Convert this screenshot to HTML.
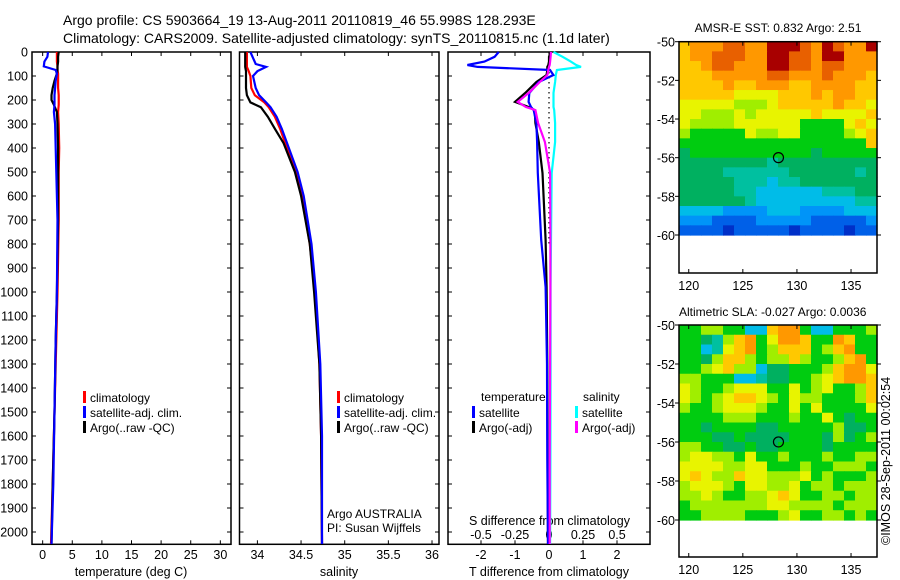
<!DOCTYPE html>
<html><head><meta charset="utf-8">
<style>
html,body{margin:0;padding:0;background:#fff;}
svg{display:block;font-family:"Liberation Sans",sans-serif;}
text{fill:#000;}
</style></head>
<body>
<svg id="chart" width="900" height="580" viewBox="0 0 900 580">
<g id="titles" font-size="14">
<text x="63" y="25">Argo profile: CS 5903664_19 13-Aug-2011 20110819_46 55.998S 128.293E</text>
<text x="63" y="43">Climatology: CARS2009. Satellite-adjusted climatology: synTS_20110815.nc (1.1d later)</text>
</g>
<g id="p1"></g>
<g id="p2"></g>
<g id="p3"></g>
<g id="m1"></g>
<g id="m2"></g>
<text transform="translate(890,545) rotate(-90)" font-size="12.5">©IMOS 28-Sep-2011 00:02:54</text>
</svg>
<script>
// ---- data ----
const tDepth = [0,20,40,60,75,90,120,150,180,200,220,250,300,400,500,700,1000,1200,1500,1800,2050];
const tArgo  = [2.7,2.6,2.6,2.5,2.5,2.4,2.0,1.7,1.5,1.5,1.9,2.4,2.5,2.6,2.6,2.6,2.4,2.2,2.0,1.7,1.5];
const tClim  = [2.4,2.4,2.4,2.5,2.5,2.6,2.6,2.6,2.7,2.7,2.7,2.6,2.7,2.8,2.7,2.7,2.5,2.3,2.0,1.7,1.4];
const tSat   = [0.9,0.8,0.3,0.2,2.2,2.4,2.2,2.1,2.0,2.0,2.0,1.9,2.1,2.2,2.3,2.5,2.4,2.2,2.0,1.8,1.5];
const sDepth = [0,50,62,80,100,150,180,210,230,270,320,380,500,600,800,1000,1300,1600,2050];
const sArgo  = [33.86,33.86,33.86,33.87,33.87,33.87,33.88,33.92,34.04,34.12,34.2,34.3,34.43,34.5,34.6,34.65,34.71,34.73,34.74];
const sClim  = [33.88,33.88,33.88,33.9,33.92,33.93,33.97,34.08,34.13,34.2,34.26,34.32,34.44,34.51,34.6,34.66,34.71,34.73,34.74];
const sSat   = [33.92,33.98,34.1,34.0,33.95,33.98,34.02,34.1,34.15,34.22,34.28,34.34,34.46,34.53,34.62,34.67,34.72,34.74,34.74];
const dDepth = [0,20,40,54,62,75,96,125,171,208,229,242,296,375,504,783,979,1300,1700,2050];
const dTSat  = [-1.48,-1.6,-1.9,-2.4,-2.1,0.03,0.13,-0.3,-0.58,-0.6,-0.53,-0.45,-0.37,-0.35,-0.33,-0.23,-0.1,-0.06,-0.05,-0.03];
const dTArgo = [0.05,0.0,0.0,-0.02,-0.05,-0.05,-0.07,-0.37,-0.7,-1.0,-0.6,-0.42,-0.4,-0.3,-0.19,-0.1,-0.07,-0.05,-0.04,-0.03];
const dSArgo = [0.015,0.012,0.008,0.005,0,-0.005,-0.012,-0.068,-0.15,-0.23,-0.17,-0.1,-0.08,-0.03,0.008,0.01,0.01,0.008,0.005,0.005];
const dSSat  = [0.033,0.1,0.16,0.2,0.235,0.058,0.05,0.045,0.033,0.033,0.033,0.038,0.045,0.045,0.02,0.015,0.012,0.012,0.01,0.008];
const depthTicks = [0,100,200,300,400,500,600,700,800,900,1000,1100,1200,1300,1400,1500,1600,1700,1800,1900,2000];
const tempTicks = [0,5,10,15,20,25,30];
const salTicks = [34,34.5,35,35.5,36];
const salTickLabels = ["34","34.5","35","35.5","36"];
const dTTicks = [-2,-1,0,1,2];
const dSTicks = [-0.5,-0.25,0,0.25,0.5];
const dSTickLabels = ["-0.5","-0.25","0","0.25","0.5"];
const latTicks = [-50,-52,-54,-56,-58,-60];
const lonTicks = [120,125,130,135];
const sstGrid = [
"9aaabbaacccbacbaac","9aabbbaaccbbaccaaa","99abbaaaccbbabbaaa","999aaaaabbaaabaaa9",
"9999a99aaa99aaaa99","999998888999a9aa99","88888777899999a998","887778788888988889",
"877778888886666898","766666877886666789","666666666666666669","566666666666566666",
"555555554555555555","555544444455555545","555554443445555555","555554433333344455",
"555555433333333344","333322223332222333","222111122222111112","111101111101111011"];
const slaGrid = [
"667766339aa6336667","665479a68aa966a966","663489a67999679a66","6657997677976679a6",
"667897735566679aa8","776663345566789aa9","876678886686786679","876789987687766679",
"766788876686866668","666677766676686566","665666655666667556","666556555566657567",
"776655655666656666","788776866766676677","888877886667667776","898779887778676667",
"788876887786776777","778766778986677677","677777778877776777","667777666786677676"];
const palette = {"0":"#0030c8","1":"#0060e8","2":"#0094f8","3":"#00bce8","4":"#00c0a0","5":"#00b060","6":"#00cc10","7":"#a0ee00","8":"#e8f400","9":"#ffc800","a":"#ff9800","b":"#e86000","c":"#a80000"};

const NS="http://www.w3.org/2000/svg";
function mk(parent,tag,attrs){const e=document.createElementNS(NS,tag);for(const k in attrs)e.setAttribute(k,attrs[k]);parent.appendChild(e);return e;}
const Y0=52, Y1=544.3;
function yD(d){return Y0+d*0.24;}

function panel(g,x0,x1,xmin,xmax){
  const sx=v=>x0+(v-xmin)/(xmax-xmin)*(x1-x0);
  const fr=mk(g,'rect',{x:x0,y:Y0,width:x1-x0,height:Y1-Y0,fill:'none',stroke:'#000','stroke-width':1.5});
  
  
  depthTicks.forEach(d=>{
    mk(g,'line',{x1:x0,x2:x0+4,y1:yD(d),y2:yD(d),stroke:'#000'});
    mk(g,'line',{x1:x1-4,x2:x1,y1:yD(d),y2:yD(d),stroke:'#000'});
  });
  return sx;
}
function profile(g,sx,depths,vals,color,name,w){
  const pts=depths.map((d,i)=>sx(vals[i]).toFixed(1)+','+yD(d).toFixed(1)).join(' ');
  const p=mk(g,'polyline',{points:pts,fill:'none',stroke:color,'stroke-width':w||2.2});
  
  
}
function txt(g,x,y,s,size,anchor,name){
  const t=mk(g,'text',{x:x,y:y,'font-size':size||13,'text-anchor':anchor||'start'});
  t.textContent=s;
  
  
  return t;
}
function legend(g,x,y,color,label){
  const r=mk(g,'rect',{x:x,y:y-11,width:3,height:12,fill:color});
  
  
  txt(g,x+7,y,label,12,'start','legend-entry');
}

// Panel 1 temperature
const g1=document.getElementById('p1');
const sT=panel(g1,32,231,-1.8,31.8);
depthTicks.forEach(d=>txt(g1,28,yD(d)+4.5,String(d),12.5,'end','depth-tick-label'));
tempTicks.forEach(v=>{mk(g1,'line',{x1:sT(v),x2:sT(v),y1:Y0,y2:Y0+4,stroke:'#000'});mk(g1,'line',{x1:sT(v),x2:sT(v),y1:Y1-4,y2:Y1,stroke:'#000'});txt(g1,sT(v),559,String(v),12.5,'middle','x-tick-label');});
txt(g1,131,576,'temperature (deg C)',12.5,'middle','x-axis-title');
profile(g1,sT,tDepth,tClim,'#ff0000','climatology-temp-line');
profile(g1,sT,tDepth,tArgo,'#000000','argo-temp-line');
profile(g1,sT,tDepth,tSat,'#0000ff','satellite-temp-line');
legend(g1,83,402,'#ff0000','climatology');
legend(g1,83,417,'#0000ff','satellite-adj. clim.');
legend(g1,83,432,'#000000','Argo(..raw -QC)');

// Panel 2 salinity
const g2=document.getElementById('p2');
const sS=panel(g2,239.5,439,33.795,36.08);
salTicks.forEach((v,i)=>{mk(g2,'line',{x1:sS(v),x2:sS(v),y1:Y0,y2:Y0+4,stroke:'#000'});mk(g2,'line',{x1:sS(v),x2:sS(v),y1:Y1-4,y2:Y1,stroke:'#000'});txt(g2,sS(v),559,salTickLabels[i],12.5,'middle','x-tick-label');});
txt(g2,339,576,'salinity',12.5,'middle','x-axis-title');
profile(g2,sS,sDepth,sClim,'#ff0000','climatology-sal-line');
profile(g2,sS,sDepth,sArgo,'#000000','argo-sal-line');
profile(g2,sS,sDepth,sSat,'#0000ff','satellite-sal-line');
legend(g2,337,402,'#ff0000','climatology');
legend(g2,337,417,'#0000ff','satellite-adj. clim.');
legend(g2,337,432,'#000000','Argo(..raw -QC)');
txt(g2,327,518,'Argo AUSTRALIA',12,'start','argo-credit');
txt(g2,327,532,'PI: Susan Wijffels',12,'start','pi-credit');

// Panel 3 differences
const g3=document.getElementById('p3');
const sDT=panel(g3,448,650,-2.97,2.97);
const sDS=v=>sDT(v*4);
dTTicks.forEach(v=>{mk(g3,'line',{x1:sDT(v),x2:sDT(v),y1:Y0,y2:Y0+4,stroke:'#000'});mk(g3,'line',{x1:sDT(v),x2:sDT(v),y1:Y1-4,y2:Y1,stroke:'#000'});txt(g3,sDT(v),559,String(v),12.5,'middle','t-diff-tick-label');});
dSTicks.forEach((v,i)=>txt(g3,sDS(v),539,dSTickLabels[i],12.5,'middle','s-diff-tick-label'));
txt(g3,549,576,'T difference from climatology',12.5,'middle','t-diff-axis-title');
txt(g3,469,525,'S difference from climatology',12.5,'start','s-diff-axis-title');
const zl=mk(g3,'line',{x1:sDT(0),x2:sDT(0),y1:Y0,y2:yD(800),stroke:'#000','stroke-dasharray':'1.5,3.5','stroke-width':1.2});


profile(g3,sDS,dDepth,dSSat,'#00ffff','s-satellite-diff-line');
profile(g3,sDT,dDepth,dTArgo,'#000000','t-argo-diff-line');
profile(g3,sDT,dDepth,dTSat,'#0000ff','t-satellite-diff-line');
profile(g3,sDS,dDepth,dSArgo,'#ff00ff','s-argo-diff-line');
txt(g3,481,401,'temperature',12,'start','legend-header-temperature');
txt(g3,583,401,'salinity',12,'start','legend-header-salinity');
legend(g3,472,417,'#0000ff','satellite');
legend(g3,472,432,'#000000','Argo(-adj)');
legend(g3,575,417,'#00ffff','satellite');
legend(g3,575,432,'#ff00ff','Argo(-adj)');

// Maps
function map(g,top,yPerDeg,bottom,grid,title,titleY,titleX,anchor){
  const lon0=119.1,lon1=137.4,x0=679,x1=877;
  const sx=v=>x0+(v-lon0)/(lon1-lon0)*(x1-x0);
  const sy=lat=>top+(-50-lat)*yPerDeg;
  const rows=grid.length, cols=grid[0].length;
  const cw=(x1-x0)/cols, ch=(sy(-60)-sy(-50))/rows;
  grid.forEach((row,r)=>{for(let c=0;c<cols;c++){
    const cell=mk(g,'rect',{x:(x0+c*cw).toFixed(2),y:(top+r*ch).toFixed(2),width:(cw+0.6).toFixed(2),height:(ch+0.6).toFixed(2),fill:palette[row[c]]});
    
    
  }});
  const fr=mk(g,'rect',{x:x0,y:top,width:x1-x0,height:bottom-top,fill:'none',stroke:'#000','stroke-width':1.5});
  
  
  latTicks.forEach(l=>{mk(g,'line',{x1:x0-4,x2:x0,y1:sy(l),y2:sy(l),stroke:'#000'});mk(g,'line',{x1:x1,x2:x1+4,y1:sy(l),y2:sy(l),stroke:'#000'});txt(g,675,sy(l)+5,String(l),12.5,'end','lat-tick-label');});
  lonTicks.forEach(l=>{mk(g,'line',{x1:sx(l),x2:sx(l),y1:top,y2:top+4,stroke:'#000'});mk(g,'line',{x1:sx(l),x2:sx(l),y1:bottom-4,y2:bottom,stroke:'#000'});txt(g,sx(l),bottom+17,String(l),12.5,'middle','lon-tick-label');});
  txt(g,titleX,titleY,title,12,anchor,'map-title');
  const m=mk(g,'circle',{cx:sx(128.293),cy:sy(-55.998),r:5,fill:'none',stroke:'#000','stroke-width':1.2});
  
  
}
map(document.getElementById('m1'),41.7,19.33,273,sstGrid,'AMSR-E SST: 0.832 Argo: 2.51',32,778,'middle');
map(document.getElementById('m2'),325,19.5,557,slaGrid,'Altimetric SLA: -0.027 Argo: 0.0036',316,679,'start');
</script>
</body></html>
